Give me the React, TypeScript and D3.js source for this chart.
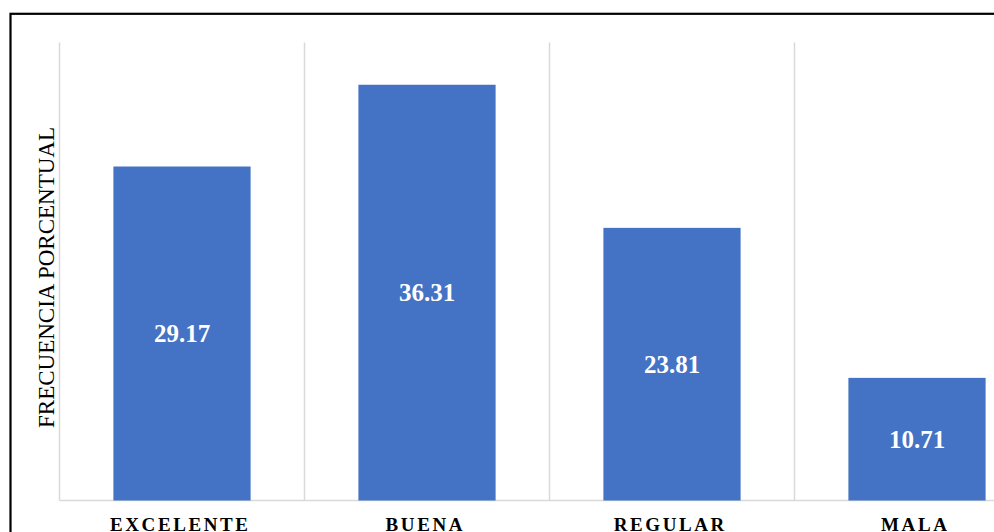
import React from "react";
import * as d3 from "d3";

const categories = ["EXCELENTE", "BUENA", "REGULAR", "MALA"];
const values = [29.17, 36.31, 23.81, 10.71];
const axisTitle = "FRECUENCIA PORCENTUAL";

export default function App() {
  const W = 994;
  const H = 532;
  const left = 59.5;
  const step = 245;
  const x = d3
    .scaleBand<string>()
    .domain(categories)
    .range([left, left + step * categories.length])
    .paddingInner(0.44)
    .paddingOuter(0.22);
  const y = d3.scaleLinear().domain([0, 40]).range([500.5, 42.5]);
  const font = "'Liberation Serif', 'Times New Roman', serif";
  const gridXs = d3.range(categories.length + 1).map((i) => left + i * step);

  return (
    <svg
      width={W}
      height={H}
      style={{ position: "absolute", left: 0, top: 0, background: "#fff" }}
    >
      <rect x={10.5} y={13.8} width={1200} height={800} fill="#fff" stroke="#000" strokeWidth={2.2} />
      {gridXs.map((gx, i) => (
        <line key={i} x1={gx} x2={gx} y1={y(40)} y2={y(0)} stroke="#d9d9d9" strokeWidth={1.5} />
      ))}
      <line x1={left} x2={W + 50} y1={y(0)} y2={y(0)} stroke="#d9d9d9" strokeWidth={1.5} />
      {categories.map((c, i) => {
        const bx = x(c)!;
        const bw = x.bandwidth();
        const top = y(values[i]);
        const mid = (top + y(0)) / 2;
        return (
          <g key={c}>
            <rect x={bx} y={top} width={bw} height={y(0) - top} fill="#4472C4" />
            <text
              x={bx + bw / 2}
              y={mid + 8.5}
              textAnchor="middle"
              fill="#fff"
              fontFamily={font}
              fontWeight="bold"
              fontSize={25}
            >
              {values[i].toFixed(2)}
            </text>
            <text
              x={bx + bw / 2 - 1.7}
              y={530.5}
              textAnchor="middle"
              fill="#000"
              fontFamily={font}
              fontWeight="bold"
              fontSize={19}
              letterSpacing={2.6}
            >
              {c}
            </text>
          </g>
        );
      })}
      <text
        transform={`translate(53.5,277.5) rotate(-90)`}
        textAnchor="middle"
        fill="#000"
        fontFamily={font}
        fontSize={23}
      >
        {axisTitle}
      </text>
    </svg>
  );
}
